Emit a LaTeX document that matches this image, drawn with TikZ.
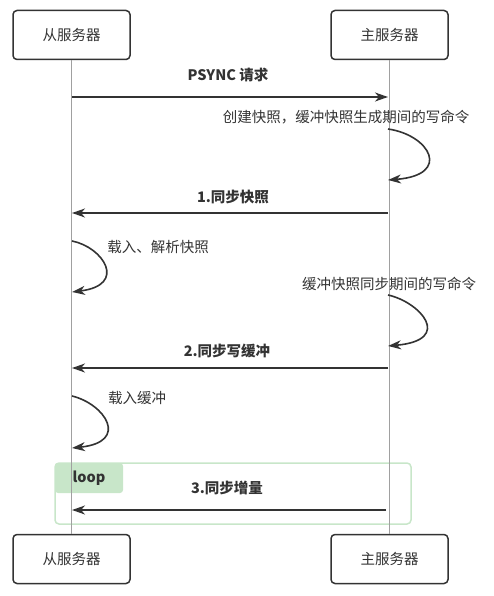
\documentclass[tikz,border=0pt]{standalone}
\usepackage{fontspec}
\setmainfont{Noto Sans CJK SC}
\usetikzlibrary{arrows.meta}
\definecolor{ink}{HTML}{333333}
\definecolor{life}{HTML}{A0A0A0}
\definecolor{loopg}{HTML}{C8E6C9}
\tikzset{
  actor/.style={draw=ink, line width=1.5pt, rounded corners=4pt, minimum width=117pt, minimum height=49pt, font=\fontsize{14.5}{17}\selectfont, text=ink, fill=white},
  lifeline/.style={draw=life, line width=1.5pt},
  msg/.style={draw=ink, line width=1.6pt, -{Stealth[length=13pt,width=9pt,inset=4pt]}},
  msglabel/.style={font=\fontsize{14.5}{17}\selectfont\bfseries, text=ink, inner sep=0pt},
  note/.style={font=\fontsize{14.5}{17}\selectfont, text=ink, inner sep=0pt},
}
\begin{document}
\begin{tikzpicture}[x=1pt,y=-1pt]
\useasboundingbox (0,0) rectangle (493,596);
% actors
\node[actor] (s1) at (71.5,35) {从服务器};
\node[actor] (m1) at (389.5,35) {主服务器};
\node[actor] (s2) at (71.5,559) {从服务器};
\node[actor] (m2) at (389.5,559) {主服务器};
% loop frame
\fill[loopg, rounded corners=3pt] (55,463) rectangle (123,493);
\draw[loopg, line width=1.5pt, rounded corners=4pt] (55,463) rectangle (411,524);
\node[msglabel] (looplbl) at (89,478) {loop};
% lifelines
\draw[lifeline] (s1.south) -- (s2.north);
\draw[lifeline] (m1.south) -- (m2.north);
% coordinates on lifelines
\coordinate (a1) at (72,97);   \coordinate (b1) at (388,97);
\coordinate (c1) at (388,129); \coordinate (c2) at (388,180);
\coordinate (a2) at (72,213);  \coordinate (b2) at (388,213);
\coordinate (d1) at (72,241);  \coordinate (d2) at (72,292);
\coordinate (e1) at (388,295); \coordinate (e2) at (388,346);
\coordinate (a3) at (72,368);  \coordinate (b3) at (388,368);
\coordinate (f1) at (72,396);  \coordinate (f2) at (72,448);
\coordinate (a4) at (72,510);  \coordinate (b4) at (386,510);
% messages
\draw[msg] (a1) -- (b1);
\node[msglabel] (l1) at (228,75) {PSYNC 请求};
\node[note] (n1) at (346,117) {创建快照，缓冲快照生成期间的写命令};
\draw[msg] (c1) .. controls (430,135) and (452,175) .. (c2);
\draw[msg] (b2) -- (a2);
\node[msglabel] (l2) at (233,197) {1.同步快照};
\node[note] (n2) at (158,247) {载入、解析快照};
\draw[msg] (d1) .. controls (103,247) and (128,285) .. (d2);
\node[note] (n3) at (389,284) {缓冲快照同步期间的写命令};
\draw[msg] (e1) .. controls (420,302) and (454,340) .. (e2);
\draw[msg] (b3) -- (a3);
\node[msglabel] (l3) at (227,351) {2.同步写缓冲};
\node[note] (n4) at (137,398) {载入缓冲};
\draw[msg] (f1) .. controls (105,404) and (130,442) .. (f2);
\draw[msg] (b4) -- (a4);
\node[msglabel] (l4) at (227,488) {3.同步增量};
\end{tikzpicture}
\end{document}
